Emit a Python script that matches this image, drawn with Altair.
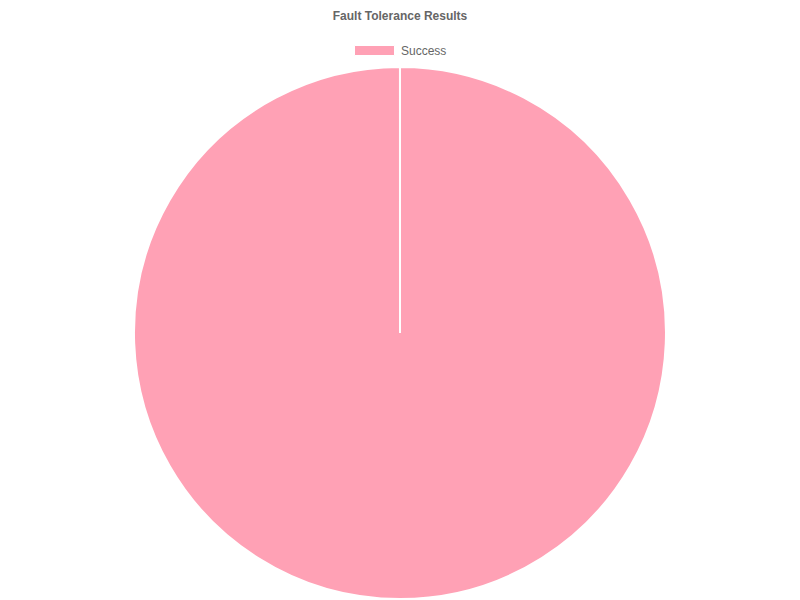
import altair as alt
import pandas as pd

title_text = "Fault Tolerance Results"
categories = ["Success"]
values = [100]
colors = ["#FFA1B5"]

df = pd.DataFrame({"category": categories, "value": values})
title_df = pd.DataFrame({"title": [title_text]})

FONT = "Liberation Sans"

pie = (
    alt.Chart(df)
    .mark_arc(radius=266, stroke="white", strokeWidth=2, opacity=1)
    .encode(
        theta=alt.Theta("value:Q", stack=True, scale=alt.Scale(range=[0, 6.2830])),
        color=alt.Color(
            "category:N",
            scale=alt.Scale(domain=categories, range=colors),
            legend=alt.Legend(
                title=None,
                orient="none",
                legendX=346,
                legendY=-28,
                symbolType="M-1,-0.25L1,-0.25L1,0.25L-1,0.25Z",
                symbolSize=1600,
                symbolOpacity=1,
                symbolStrokeColor="white",
                symbolStrokeWidth=1,
                labelFont=FONT,
                labelFontSize=12,
                labelColor="#666666",
                labelOffset=6,
                padding=0,
            ),
        ),
        order=alt.Order("category:N"),
    )
)

title = (
    alt.Chart(title_df)
    .mark_text(
        font=FONT,
        fontSize=12,
        fontWeight="bold",
        color="#666666",
        align="center",
        baseline="middle",
    )
    .encode(text="title:N", x=alt.value(392), y=alt.value(-42))
)

chart = (
    alt.layer(pie, title)
    .properties(
        width=784,
        height=550,
        padding={"left": 0, "top": 50, "right": 0, "bottom": 0},
        autosize=alt.AutoSizeParams(type="none"),
    )
    .configure(background="white")
    .configure_view(stroke="transparent", strokeWidth=0)
)

chart.save("out.html", embed_options={"renderer": "svg", "actions": False})
